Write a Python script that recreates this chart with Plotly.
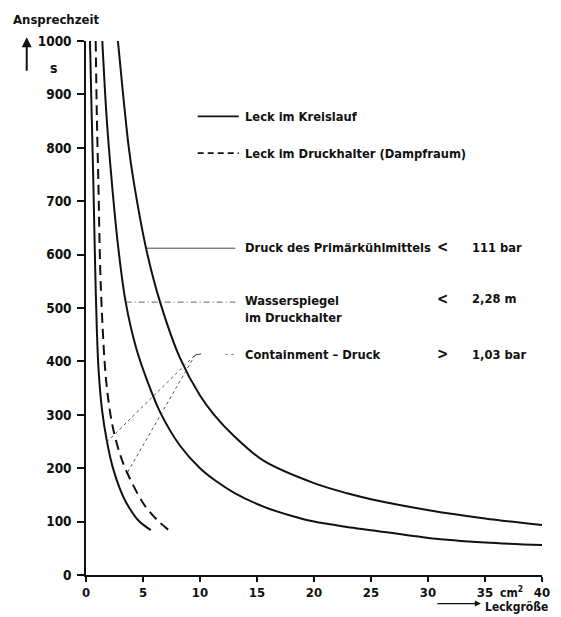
import plotly.graph_objects as go

# ---------------- data ----------------
# Leck im Kreislauf, Containment-Druck (leftmost solid curve)
kc_x = [0.35, 0.5, 0.64, 0.8, 0.95, 1.1, 1.4, 1.82, 2.34, 3.0, 3.57, 4.6, 5.68]
kc_y = [1000, 860, 740, 580, 460, 385, 310, 252, 202, 160, 134, 102, 84]
# Leck im Druckhalter (dashed)
dh_x = [0.85, 0.95, 1.08, 1.3, 1.76, 2.3, 3.0, 3.6, 5.03, 6.2, 7.43]
dh_y = [1000, 860, 740, 540, 365, 282, 225, 192, 134, 104, 81]
# Leck im Kreislauf, Wasserspiegel (middle solid curve)
kw_x = [1.43, 1.8, 2.25, 2.84, 3.48, 4.4, 5.47, 6.5, 8.25, 10, 11.4, 13, 15.57, 18, 20, 22.9, 25, 30.2, 35, 40]
kw_y = [1000, 860, 739, 611, 511, 425, 358, 305, 242, 200, 176, 154, 128, 111, 100, 90, 84, 69, 61, 56]
# Leck im Kreislauf, Druck des Primaerkuehlmittels (rightmost solid curve)
kp_x = [2.8, 3.72, 4.16, 5.33, 6.5, 8.25, 10, 11.2, 13, 15.57, 20, 22.9, 25, 30.2, 35, 40]
kp_y = [1000, 806, 740, 606, 511, 406, 336, 301, 260, 214, 172, 153, 142, 121, 106, 93.5]

x_ticks = [0, 5, 10, 15, 20, 25, 30, 35, 40]
x_tick_text = ["0", "5", "10", "15", "20", "25", "30", "35", "40"]
y_ticks = [0, 100, 200, 300, 400, 500, 600, 700, 800, 900, 1000]

legend_labels = ["Leck im Kreislauf", "Leck im Druckhalter (Dampfraum)"]
signal_labels = ["Druck des Primärkühlmittels", "Wasserspiegel<br>im Druckhalter", "Containment – Druck"]
signal_ops = ["<", "<", ">"]
signal_limits = ["111 bar", "2,28 m", "1,03 bar"]

FONT = "DejaVu Sans Condensed, Liberation Sans Narrow, sans-serif"
INK = "#111111"

fig = go.Figure()

def curve(x, y, dash="solid"):
    fig.add_trace(go.Scatter(x=x, y=y, mode="lines",
                             line=dict(color=INK, width=2, dash=dash, shape="spline", smoothing=0.9),
                             cliponaxis=False, showlegend=False, hoverinfo="skip"))

curve(kc_x, kc_y)
curve(dh_x, dh_y, dash="10px,6px")
curve(kw_x, kw_y)
curve(kp_x, kp_y)

def seg(x0, y0, x1, y1, dash="solid", width=0.9, color="#333333"):
    fig.add_shape(type="line", x0=x0, y0=y0, x1=x1, y1=y1, xref="x", yref="y",
                  line=dict(color=color, width=width, dash=dash))

# legend samples
seg(9.8, 859, 13.4, 859, width=1.8, color=INK)
seg(9.8, 790, 13.4, 790, dash="6px,4px", width=1.8, color=INK)

# leader lines
seg(5.33, 612, 13.1, 612, width=0.9)
seg(3.48, 511, 13.1, 511, dash="6px,3px,1px,3px", width=0.9, color="#555555")
seg(1.82, 249, 9.57, 412, dash="dot", width=0.9, color="#444444")
seg(3.66, 193, 9.57, 412, dash="dot", width=0.9, color="#444444")
seg(9.57, 412, 10.1, 414, width=0.9)
seg(12.2, 413, 13.1, 413, dash="dot", width=0.8, color="#777777")

def txt(x, y, s, anchor="left", size=12.8):
    fig.add_annotation(x=x, y=y, xref="x", yref="y", text=s, showarrow=False,
                       xanchor=anchor, yanchor="middle", align="left",
                       font=dict(family=FONT, size=size, color=INK, weight="bold"))

txt(13.8, 859, legend_labels[0])
txt(13.8, 790, legend_labels[1])
ys = [614, 499, 413]
op_y = [614, 517, 413]
for lab, op, lim, yy, oy in zip(signal_labels, signal_ops, signal_limits, ys, op_y):
    txt(13.8, yy, lab)
    txt(31.3, oy, op, anchor="center", size=15)
    txt(33.7, oy, lim)

# axis titles and decorations
fig.add_annotation(x=-0.066, y=1.041, xref="paper", yref="paper", text="Ansprechzeit",
                   showarrow=False, xanchor="center", yanchor="middle",
                   font=dict(family=FONT, size=13, color=INK, weight="bold"))
fig.add_annotation(x=-0.07, y=0.95, xref="paper", yref="paper", text="s",
                   showarrow=False, xanchor="center", yanchor="middle",
                   font=dict(family=FONT, size=14, color=INK, weight="bold"))
fig.add_annotation(x=-0.130, y=1.007, xref="paper", yref="paper", text="",
                   showarrow=True, arrowhead=2, arrowsize=1, arrowwidth=2, arrowcolor=INK,
                   ax=0, ay=35)
fig.add_annotation(x=0.8706, y=-0.0605, xref="paper", yref="paper", text="Leckgröße",
                   showarrow=False, xanchor="left", yanchor="middle",
                   font=dict(family=FONT, size=12, color=INK, weight="bold"))
fig.add_annotation(x=0.866, y=-0.0535, xref="paper", yref="paper", text="",
                   showarrow=True, arrowhead=2, arrowsize=1, arrowwidth=1.2, arrowcolor=INK,
                   ax=-45, ay=0)
fig.add_annotation(x=37.35, y=0, xref="x", yref="paper", yshift=-17, text="cm<sup>2</sup>",
                   showarrow=False, xanchor="center", yanchor="middle",
                   font=dict(family=FONT, size=12, color=INK, weight="bold"))

fig.update_layout(
    width=561, height=617,
    margin=dict(l=86, r=19, t=41, b=42),
    paper_bgcolor="white", plot_bgcolor="white",
    showlegend=False,
    xaxis=dict(range=[0, 40], tickvals=x_ticks, ticktext=x_tick_text,
               showgrid=False, zeroline=False, showline=True, linecolor=INK, linewidth=1.5,
               ticks="outside", ticklen=5, tickwidth=1.5, tickcolor=INK,
               tickfont=dict(family=FONT, size=13, color=INK, weight="bold")),
    yaxis=dict(range=[0, 1000], tickvals=y_ticks,
               showgrid=False, zeroline=False, showline=True, linecolor=INK, linewidth=1.5,
               ticks="outside", ticklen=7, tickwidth=1.5, tickcolor=INK, ticklabelstandoff=3,
               tickfont=dict(family=FONT, size=13.5, color=INK, weight="bold")),
)

fig.write_html("out.html")
